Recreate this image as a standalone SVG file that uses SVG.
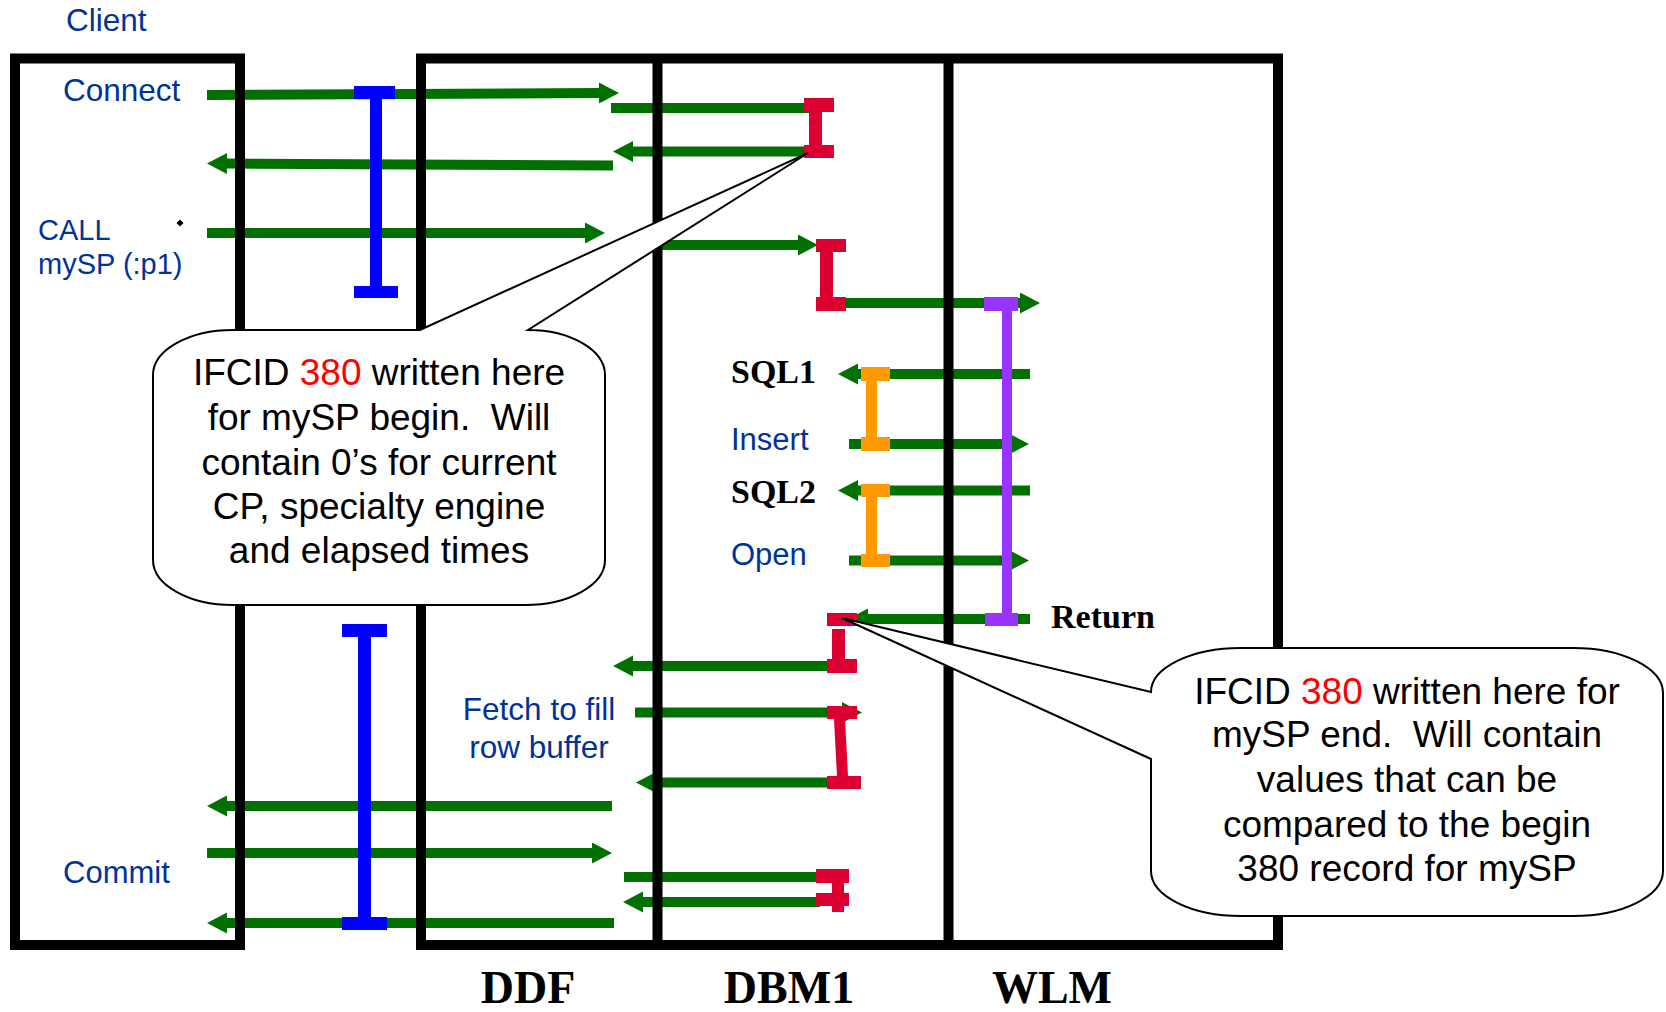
<svg xmlns="http://www.w3.org/2000/svg" width="1666" height="1012" viewBox="0 0 1666 1012">
<defs>
<style>
.frame{fill:none;stroke:#000;stroke-width:10;stroke-linejoin:miter}
.arr{fill:none;stroke:#007000;stroke-width:10}
.lbl{font-family:"Liberation Sans",Arial,sans-serif;fill:#003399}
.hdr{font-family:"Liberation Serif","Times New Roman",serif;font-weight:bold;fill:#000}
.note{font-family:"Liberation Sans",Arial,sans-serif;font-size:37px;fill:#000;text-anchor:middle}
.num{fill:#FF0000}
.bubble{fill:#fff;stroke:#000;stroke-width:2;stroke-linejoin:miter}
.blue{fill:#0000FF}
.red{fill:#DC0032}
.orange{fill:#FF9900}
.purple{fill:#9933FF}
</style>
<marker id="ah" markerUnits="userSpaceOnUse" markerWidth="22" markerHeight="22" refX="1" refY="10.5" orient="auto">
<path d="M0,0 L20,10.5 L0,21 Z" fill="#007000"/>
</marker>
</defs>
<rect width="1666" height="1012" fill="#fff"/>

<g id="connectors">
<path class="arr" d="M207,95 L600,93" marker-end="url(#ah)"/>
<path class="arr" d="M611,108 L812,108"/>
<path class="arr" d="M812,151.5 L632,151.5" marker-end="url(#ah)"/>
<path class="arr" d="M613,165.5 L226,163.5" marker-end="url(#ah)"/>
<path class="arr" d="M207,233 L586,233" marker-end="url(#ah)"/>
<path class="arr" d="M640,245 L799,245" marker-end="url(#ah)"/>
<path class="arr" d="M845,303 L1021,303" marker-end="url(#ah)"/>
<path class="arr" d="M1030,374 L857,374" marker-end="url(#ah)"/>
<path class="arr" d="M849,444 L1010,444" marker-end="url(#ah)"/>
<path class="arr" d="M1030,490.5 L857,490.5" marker-end="url(#ah)"/>
<path class="arr" d="M849,560.5 L1010,560.5" marker-end="url(#ah)"/>
<path class="arr" d="M1030,619 L867,619" marker-end="url(#ah)"/>
<path class="arr" d="M827,666 L632,666" marker-end="url(#ah)"/>
<path class="arr" d="M635,712.5 L843,712.5" marker-end="url(#ah)"/>
<path class="arr" d="M827,782.5 L655,782.5" marker-end="url(#ah)"/>
<path class="arr" d="M612,806 L226,806" marker-end="url(#ah)"/>
<path class="arr" d="M207,853 L593,853" marker-end="url(#ah)"/>
<path class="arr" d="M624,877 L820,877"/>
<path class="arr" d="M820,902 L642,902" marker-end="url(#ah)"/>
<path class="arr" d="M614,923 L226,923" marker-end="url(#ah)"/>
</g>

<g id="client">
<rect class="frame" x="15" y="58.5" width="225" height="886.5"/>
<text class="lbl" x="66" y="31" font-size="31.5">Client</text>
</g>
<g id="ddf-dbm1-wlm">
<rect class="frame" x="421" y="58.5" width="857" height="886.5"/>
<line x1="657.5" y1="58.5" x2="657.5" y2="945" stroke="#000" stroke-width="10"/>
<line x1="948.5" y1="58.5" x2="948.5" y2="945" stroke="#000" stroke-width="10"/>
</g>
<g id="headers">
<text class="hdr" x="528" y="1003" font-size="46" text-anchor="middle">DDF</text>
<text class="hdr" x="789" y="1003" font-size="46" text-anchor="middle">DBM1</text>
<text class="hdr" x="1052" y="1003" font-size="46" text-anchor="middle">WLM</text>
</g>

<g id="labels">
<text class="lbl" x="63" y="101" font-size="31.5">Connect</text>
<text class="lbl" x="38" y="240" font-size="29">CALL</text>
<text class="lbl" x="38" y="274" font-size="29">mySP (:p1)</text>
<polygon points="180,219.5 183.5,223 180,226.5 176.5,223" fill="#000"/>
<text class="lbl" x="63" y="883" font-size="31">Commit</text>
<text class="lbl" x="539" y="720" font-size="31.5" text-anchor="middle">Fetch to fill</text>
<text class="lbl" x="539" y="758" font-size="31.5" text-anchor="middle">row buffer</text>
<text class="lbl" x="731" y="450" font-size="31">Insert</text>
<text class="lbl" x="731" y="565" font-size="31">Open</text>
<text class="hdr" x="731" y="383" font-size="34">SQL1</text>
<text class="hdr" x="731" y="503" font-size="34">SQL2</text>
<text class="hdr" x="1051" y="628" font-size="34">Return</text>
</g>

<g id="ibeam-blue-1" class="blue">
<rect x="354" y="86" width="41" height="13"/>
<rect x="370" y="99" width="12" height="187"/>
<rect x="354" y="286" width="44" height="12"/>
</g>
<g id="ibeam-blue-2" class="blue">
<rect x="342" y="624" width="45" height="13"/>
<rect x="358" y="637" width="13" height="280"/>
<rect x="342" y="917" width="45" height="13"/>
</g>
<g id="ibeam-red-1" class="red">
<rect x="804" y="98" width="30" height="14"/>
<rect x="809" y="112" width="13" height="33"/>
<rect x="804" y="145" width="30" height="13"/>
</g>
<g id="ibeam-red-2" class="red">
<rect x="816" y="239" width="30" height="13"/>
<rect x="820" y="252" width="13" height="45"/>
<rect x="816" y="297" width="30" height="14"/>
</g>
<g id="ibeam-purple" class="purple">
<rect x="984" y="297" width="34" height="14"/>
<rect x="1002" y="311" width="10" height="302"/>
<rect x="985" y="613" width="33" height="13"/>
</g>
<g id="ibeam-orange-1" class="orange">
<rect x="861" y="367" width="29" height="14"/>
<rect x="866" y="381" width="11" height="56"/>
<rect x="861" y="437" width="29" height="14"/>
</g>
<g id="ibeam-orange-2" class="orange">
<rect x="861" y="484" width="29" height="13"/>
<rect x="866" y="497" width="11" height="57"/>
<rect x="861" y="554" width="29" height="13"/>
</g>
<g id="ibeam-red-3" class="red">
<rect x="827" y="613" width="30" height="13"/>
<rect x="832" y="629" width="13" height="30"/>
<rect x="827" y="659" width="30" height="14"/>
</g>
<g id="ibeam-red-4" class="red">
<rect x="827" y="706" width="30" height="13"/>
<polygon points="834,719 845,719 848,776 837,776"/>
<rect x="827" y="776" width="34" height="13"/>
</g>
<g id="ibeam-red-5" class="red">
<rect x="816" y="869" width="33" height="14"/>
<rect x="832" y="869" width="12" height="43"/>
<rect x="816" y="893" width="33" height="13"/>
</g>

<g id="callout-begin">
<path class="bubble" d="M233,330 L420,330 L808,153 L528,330 A77,45 0 0 1 605,375 L605,560 A80,45 0 0 1 525,605 L233,605 A80,45 0 0 1 153,560 L153,375 A80,45 0 0 1 233,330 Z"/>
<text class="note" x="379" y="385">IFCID <tspan class="num">380</tspan> written here</text>
<text class="note" x="379" y="430">for mySP begin.&#160; Will</text>
<text class="note" x="379" y="475">contain 0’s for current</text>
<text class="note" x="379" y="518.5">CP, specialty engine</text>
<text class="note" x="379" y="563">and elapsed times</text>
</g>

<g id="callout-end">
<path class="bubble" d="M1241,648 L1573,648 A90,45 0 0 1 1663,693 L1663,871 A90,45 0 0 1 1573,916 L1241,916 A90,45 0 0 1 1151,871 L1151,759 L842,618 L1151,692 A90,44 0 0 1 1241,648 Z"/>
<text class="note" x="1407" y="704">IFCID <tspan class="num">380</tspan> written here for</text>
<text class="note" x="1407" y="747">mySP end.&#160; Will contain</text>
<text class="note" x="1407" y="792">values that can be</text>
<text class="note" x="1407" y="837">compared to the begin</text>
<text class="note" x="1407" y="881">380 record for mySP</text>
</g>
</svg>
